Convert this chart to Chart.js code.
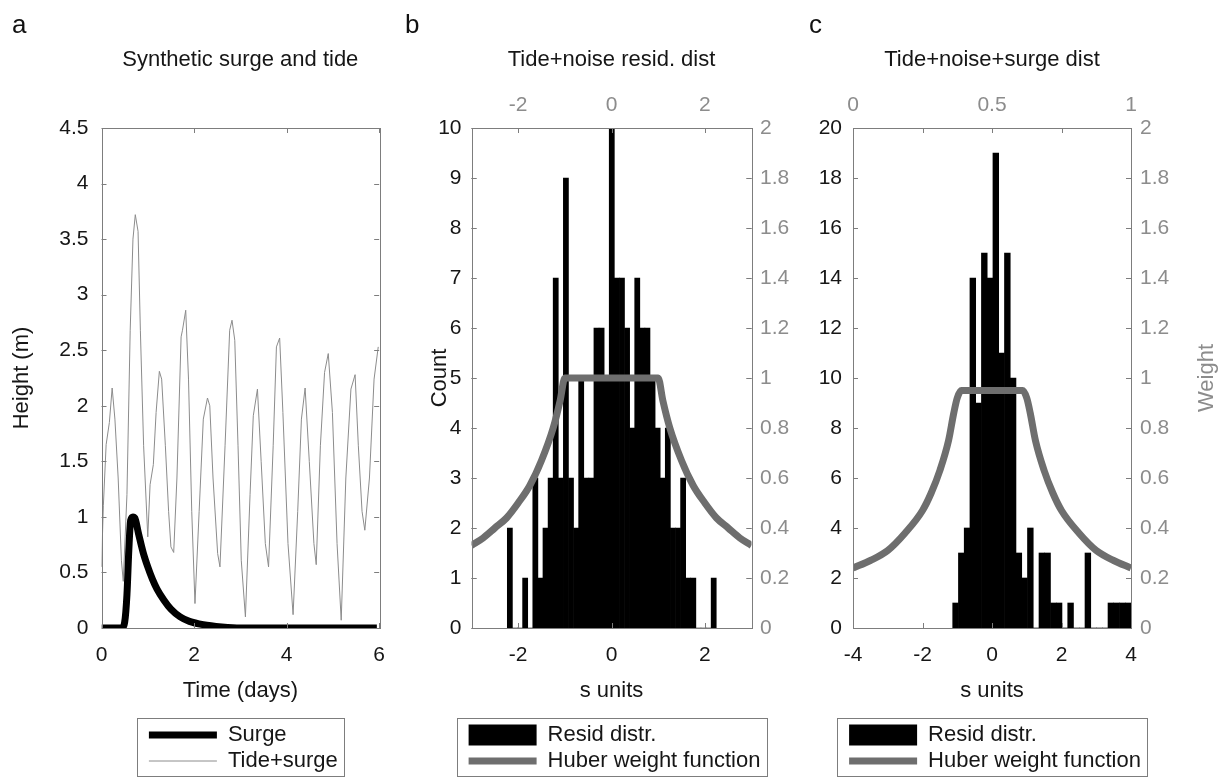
<!DOCTYPE html>
<html>
<head>
<meta charset="utf-8">
<title>Synthetic surge and tide, residual distributions</title>
<script src="https://cdn.jsdelivr.net/npm/chart.js@4.4.1/dist/chart.umd.min.js"></script>
<style>
  html, body { margin: 0; padding: 0; background: #fff; }
  #fig { position: relative; width: 1225px; height: 778px; overflow: hidden; }
  #fig canvas { position: absolute; top: 0; }
  .tag { position: absolute; top: 11px; font: 26px/26px "Liberation Sans", Arial, sans-serif; color: #111; }
</style>
</head>
<body>
<div id="fig">
  <canvas id="panel-a" width="400" height="778" style="left:0"></canvas>
  <canvas id="panel-b" width="395" height="778" style="left:400px"></canvas>
  <canvas id="panel-c" width="430" height="778" style="left:795px"></canvas>
  <div class="tag" style="left:12px">a</div>
  <div class="tag" style="left:405px">b</div>
  <div class="tag" style="left:809px">c</div>
</div>
<script>
'use strict';

// panel a - water level series, days / metres
var tideDays = [0, 0.04, 0.1, 0.17, 0.23, 0.29, 0.36, 0.43, 0.47, 0.55,
  0.62, 0.68, 0.73, 0.79, 0.84, 0.91, 1.0, 1.05, 1.12, 1.18,
  1.25, 1.30, 1.38, 1.45, 1.50, 1.56, 1.63, 1.72, 1.75, 1.82,
  1.88, 1.95, 2.02, 2.11, 2.20, 2.29, 2.34, 2.41, 2.51, 2.56,
  2.67, 2.77, 2.82, 2.88, 2.95, 3.02, 3.11, 3.21, 3.28, 3.37,
  3.45, 3.54, 3.61, 3.71, 3.78, 3.85, 3.92, 4.03, 4.14, 4.24,
  4.32, 4.40, 4.49, 4.59, 4.64, 4.73, 4.82, 4.90, 4.99, 5.09,
  5.18, 5.28, 5.39, 5.48, 5.55, 5.63, 5.69, 5.79, 5.89, 5.98];
var tideHeight = [0.55, 1.1, 1.65, 1.85, 2.16, 1.88, 1.35, 0.61, 0.42, 1.2,
  2.68, 3.5, 3.72, 3.57, 2.68, 1.64, 0.82, 1.29, 1.47, 1.94,
  2.31, 2.24, 1.64, 1.05, 0.73, 0.68, 1.35, 2.62, 2.68, 2.86,
  2.24, 1.05, 0.22, 1.05, 1.88, 2.07, 2.0, 1.35, 0.67, 0.55,
  1.64, 2.68, 2.77, 2.59, 1.64, 0.61, 0.1, 1.2, 1.91, 2.15,
  1.5, 0.76, 0.55, 1.64, 2.53, 2.61, 1.94, 0.76, 0.12, 1.05,
  1.88, 2.16, 1.5, 0.76, 0.57, 1.64, 2.3, 2.47, 1.94, 0.76,
  0.07, 1.35, 2.15, 2.28, 1.64, 1.05, 0.88, 1.35, 2.24, 2.53];
var surgeDays = [0, 0.44, 0.5, 0.55, 0.59, 0.63, 0.68, 0.72, 0.8, 0.9, 1.0, 1.1,
  1.2, 1.35, 1.5, 1.7, 1.9, 2.2, 2.6, 3.0, 4.0, 5.0, 5.95];
var surgeHeight = [0, 0, 0.05, 0.3, 0.7, 0.97, 1.0, 0.99, 0.85, 0.68, 0.55, 0.44,
  0.35, 0.25, 0.17, 0.1, 0.06, 0.03, 0.01, 0, 0, 0, 0];

// panel b - tide+noise residuals, bin centres (s units) and counts
var residBinsB = [-2.178, -2.069, -1.960, -1.850, -1.741, -1.632, -1.523, -1.414, -1.304, -1.195,
  -1.086, -0.977, -0.868, -0.758, -0.649, -0.540, -0.431, -0.322, -0.212, -0.103,
  0.006, 0.115, 0.224, 0.334, 0.443, 0.552, 0.661, 0.770, 0.880, 0.989,
  1.098, 1.207, 1.316, 1.426, 1.535, 1.644, 1.753, 1.862, 1.972, 2.081, 2.190];
var residCountB = [2, 0, 0, 1, 0, 3, 1, 2, 3, 7,
  3, 9, 3, 2, 5, 3, 3, 6, 6, 5,
  10, 7, 7, 6, 4, 7, 6, 6, 5, 4,
  3, 4, 2, 2, 3, 1, 1, 0, 0, 0, 1];
var huberSB = [-3, -2.75, -2.5, -2.25, -2, -1.75, -1.5, -1.25, -1.1, -1,
  1, 1.1, 1.25, 1.5, 1.75, 2, 2.25, 2.5, 2.75, 3];
var huberWB = [0.33, 0.36, 0.4, 0.44, 0.5, 0.57, 0.67, 0.8, 0.91, 1,
  1, 0.91, 0.8, 0.67, 0.57, 0.5, 0.44, 0.4, 0.36, 0.33];

// panel c - tide+noise+surge residuals
var residBinsC = [-1.048, -0.883, -0.717, -0.552, -0.386, -0.221, -0.055, 0.110, 0.276, 0.442,
  0.607, 0.773, 0.938, 1.104, 1.269, 1.435, 1.600, 1.766, 1.931, 2.097,
  2.262, 2.428, 2.593, 2.759, 2.924, 3.090, 3.255, 3.421, 3.586, 3.752, 3.917];
var residCountC = [1, 3, 4, 14, 9, 15, 14, 19, 11, 15,
  10, 3, 2, 4, 0, 3, 3, 1, 1, 0,
  1, 0, 0, 3, 0, 0, 0, 1, 1, 1, 1];
var huberSC = [-4, -3.5, -3, -2.5, -2, -1.75, -1.5, -1.25, -1.1, -1, -0.88,
  0.88, 1, 1.1, 1.25, 1.5, 1.75, 2, 2.5, 3, 3.5, 4];
var huberWC = [0.24, 0.27, 0.31, 0.38, 0.47, 0.54, 0.63, 0.75, 0.86, 0.92, 0.95,
  0.95, 0.92, 0.86, 0.75, 0.63, 0.54, 0.47, 0.38, 0.31, 0.27, 0.24];

// tick labels
var timeTicks = [0, 2, 4, 6];
var heightTicks = [0, 0.5, 1, 1.5, 2, 2.5, 3, 3.5, 4, 4.5];
var sTicksB = [-2, 0, 2];
var countTicksB = [0, 1, 2, 3, 4, 5, 6, 7, 8, 9, 10];
var weightTicks = [0, 0.2, 0.4, 0.6, 0.8, 1, 1.2, 1.4, 1.6, 1.8, 2];
var sTicksC = [-4, -2, 0, 2, 4];
var countTicksC = [0, 2, 4, 6, 8, 10, 12, 14, 16, 18, 20];
var fracTicksC = [0, 0.5, 1];

var INK = '#161616', GREY = '#8c8c8c', HUBER = '#6e6e6e', FRAME = '#7d7d7d';

Chart.defaults.font.family = '"Liberation Sans", Arial, sans-serif';
Chart.defaults.font.size = 21;
Chart.defaults.color = INK;
Chart.defaults.animation = false;

function pairs(xs, ys) {
  return xs.map(function(x, i) { return {x: x, y: ys[i]}; });
}
function fixTicks(values) {
  return function(scale) { scale.ticks = values.map(function(v) { return {value: v}; }); };
}
function fixSize(prop, size) {
  return function(scale) { scale[prop] = size; };
}
// labels as matlab prints them: 1 not 1.0
function plain(value) {
  return String(value);
}

// matlab style box: grey frame with short inward tick marks on all sides
var boxFrame = {
  id: 'boxFrame',
  afterDatasetsDraw: function(chart) {
    var ctx = chart.ctx, a = chart.chartArea;
    ctx.save();
    ctx.strokeStyle = FRAME;
    ctx.lineWidth = 1;
    ctx.beginPath();
    Object.keys(chart.scales).forEach(function(id) {
      var s = chart.scales[id];
      s.ticks.forEach(function(t) {
        var p = Math.round(s.getPixelForValue(t.value)) + 0.5;
        if (s.isHorizontal()) {
          ctx.moveTo(p, a.top); ctx.lineTo(p, a.top + 5);
          ctx.moveTo(p, a.bottom); ctx.lineTo(p, a.bottom - 5);
        } else {
          ctx.moveTo(a.left, p); ctx.lineTo(a.left + 5, p);
          ctx.moveTo(a.right, p); ctx.lineTo(a.right - 5, p);
        }
      });
    });
    ctx.stroke();
    ctx.strokeRect(Math.round(a.left) + 0.5, Math.round(a.top) + 0.5, Math.round(a.width), Math.round(a.height));
    ctx.restore();
  }
};

// legend sits in a framed box centred under the axes
var legendFrame = {
  id: 'legendFrame',
  afterLayout: function(chart, args, opts) {
    var lg = chart.legend, a = chart.chartArea;
    if (!lg || !lg.legendHitBoxes || !lg.legendHitBoxes.length) return;
    var pad = lg.options.labels.padding;
    var w = Math.max.apply(null, lg.legendHitBoxes.map(function(h) { return h.width; }));
    var bw = w + opts.padLeft + opts.padRight;
    var bx = (a.left + a.right) / 2 - bw / 2;
    lg.left = bx + opts.padLeft - pad;
    lg.right = lg.left + bw + 2 * pad;
    lg.width = lg.right - lg.left;
    lg.top += opts.shiftY;
    lg.bottom += opts.shiftY;
    lg.$frame = {x: bx, w: bw};
  },
  afterDraw: function(chart, args, opts) {
    var lg = chart.legend, ctx = chart.ctx;
    if (!lg || !lg.$frame) return;
    var hb = lg.legendHitBoxes;
    var top = Math.min.apply(null, hb.map(function(h) { return h.top; })) - opts.padTop;
    var bottom = Math.max.apply(null, hb.map(function(h) { return h.top + h.height; })) + opts.padBottom;
    ctx.save();
    ctx.strokeStyle = FRAME;
    ctx.lineWidth = 1;
    ctx.strokeRect(Math.round(lg.$frame.x) + 0.5, Math.round(top) + 0.5, Math.round(lg.$frame.w), Math.round(bottom - top));
    ctx.restore();
  }
};

// right hand axis title, reading bottom to top
var sideTitle = {
  id: 'sideTitle',
  afterDraw: function(chart, args, opts) {
    if (!opts.text) return;
    var ctx = chart.ctx, a = chart.chartArea;
    ctx.save();
    ctx.translate(chart.width - opts.inset, (a.top + a.bottom) / 2);
    ctx.rotate(-Math.PI / 2);
    ctx.font = '22px "Liberation Sans", Arial, sans-serif';
    ctx.fillStyle = opts.color;
    ctx.textAlign = 'center';
    ctx.textBaseline = 'middle';
    ctx.fillText(opts.text, 0, 0);
    ctx.restore();
  }
};

function legendOptions() {
  return {
    position: 'bottom',
    align: 'start',
    fullSize: false,
    labels: {
      color: INK,
      font: {size: 22},
      padding: 4,
      usePointStyle: true,
      pointStyleWidth: 68,
      boxHeight: 21,
      generateLabels: function(chart) {
        return chart.data.datasets.map(function(ds, i) {
          var bar = ds.type === 'bar';
          return {
            text: ds.label,
            datasetIndex: i,
            hidden: false,
            fontColor: INK,
            pointStyle: bar ? 'rect' : 'line',
            fillStyle: bar ? ds.backgroundColor : 'rgba(0,0,0,0)',
            strokeStyle: bar ? ds.backgroundColor : ds.borderColor,
            lineWidth: bar ? 0 : ds.borderWidth,
            lineCap: 'butt'
          };
        });
      }
    }
  };
}

var noGrid = {display: false, drawTicks: false};
var noBorder = {display: false};
var frameOpts = {padLeft: 12, padRight: 6, padTop: 6, padBottom: 4, shiftY: 4};

function titleOpts(text, below) {
  return {
    display: true, text: text, fullSize: false, color: INK,
    font: {size: 22, weight: 'normal'},
    padding: {top: 47, bottom: below}
  };
}

function bottomAxis(min, max, ticks, label) {
  return {
    type: 'linear', position: 'bottom', min: min, max: max, offset: false,
    grid: noGrid, border: noBorder,
    afterBuildTicks: fixTicks(ticks), afterFit: fixSize('height', 88),
    ticks: {padding: 15, maxRotation: 0, autoSkip: false, callback: plain},
    title: {display: true, text: label, color: INK, font: {size: 22}, padding: {top: 0, bottom: 11.8}}
  };
}

// a: synthetic surge and tide
new Chart(document.getElementById('panel-a'), {
  type: 'line',
  data: {
    datasets: [
      {label: 'Surge', data: pairs(surgeDays, surgeHeight), borderColor: '#000', backgroundColor: '#000',
        borderWidth: 7, pointRadius: 0, cubicInterpolationMode: 'monotone'},
      {label: 'Tide+surge', data: pairs(tideDays, tideHeight), borderColor: GREY, backgroundColor: GREY,
        borderWidth: 1, pointRadius: 0, tension: 0}
    ]
  },
  options: {
    responsive: false,
    animation: false,
    layout: {padding: {right: 19.5}},
    scales: {
      x: bottomAxis(0, 6, timeTicks, 'Time (days)'),
      y: {
        min: 0, max: 4.5, grid: noGrid, border: noBorder,
        afterBuildTicks: fixTicks(heightTicks), afterFit: fixSize('width', 101.5),
        ticks: {padding: 13, autoSkip: false, callback: plain},
        title: {display: true, text: 'Height (m)', color: INK, font: {size: 22}, padding: {top: 9, bottom: 0}}
      }
    },
    plugins: {
      title: titleOpts('Synthetic surge and tide', 54.6),
      legend: legendOptions(),
      legendFrame: frameOpts,
      tooltip: {enabled: false}
    }
  },
  plugins: [boxFrame, legendFrame, sideTitle]
});

// b: tide+noise residual distribution
new Chart(document.getElementById('panel-b'), {
  type: 'bar',
  data: {
    datasets: [
      {type: 'bar', label: 'Resid distr.', data: pairs(residBinsB, residCountB), backgroundColor: '#000',
        borderWidth: 0, barPercentage: 1, categoryPercentage: 1, order: 2, xAxisID: 'x', yAxisID: 'y'},
      {type: 'line', label: 'Huber weight function', data: pairs(huberSB, huberWB), borderColor: HUBER,
        backgroundColor: HUBER, borderWidth: 7, pointRadius: 0, cubicInterpolationMode: 'monotone',
        order: 1, xAxisID: 'x', yAxisID: 'y2'}
    ]
  },
  options: {
    responsive: false,
    animation: false,
    scales: {
      x: bottomAxis(-3, 3, sTicksB, 's units'),
      x2: {
        type: 'linear', position: 'top', display: true, min: -3, max: 3, offset: false,
        grid: noGrid, border: noBorder,
        afterBuildTicks: fixTicks(sTicksB), afterFit: fixSize('height', 54.6),
        ticks: {color: GREY, padding: 10, maxRotation: 0, autoSkip: false, callback: plain}
      },
      y: {
        min: 0, max: 10, grid: noGrid, border: noBorder,
        afterBuildTicks: fixTicks(countTicksB), afterFit: fixSize('width', 71.5),
        ticks: {padding: 10, autoSkip: false, callback: plain},
        title: {display: true, text: 'Count', color: INK, font: {size: 22}, padding: {top: 27, bottom: 0}}
      },
      y2: {
        position: 'right', min: 0, max: 2, grid: noGrid, border: noBorder,
        afterBuildTicks: fixTicks(weightTicks), afterFit: fixSize('width', 43.5),
        ticks: {color: GREY, padding: 8.5, autoSkip: false, callback: plain}
      }
    },
    plugins: {
      title: titleOpts('Tide+noise resid. dist', 0),
      legend: legendOptions(),
      legendFrame: frameOpts,
      tooltip: {enabled: false}
    }
  },
  plugins: [boxFrame, legendFrame, sideTitle]
});

// c: tide+noise+surge residual distribution
new Chart(document.getElementById('panel-c'), {
  type: 'bar',
  data: {
    datasets: [
      {type: 'bar', label: 'Resid distr.', data: pairs(residBinsC, residCountC), backgroundColor: '#000',
        borderWidth: 0, barPercentage: 1, categoryPercentage: 1, order: 2, xAxisID: 'x', yAxisID: 'y'},
      {type: 'line', label: 'Huber weight function', data: pairs(huberSC, huberWC), borderColor: HUBER,
        backgroundColor: HUBER, borderWidth: 7, pointRadius: 0, cubicInterpolationMode: 'monotone',
        order: 1, xAxisID: 'x', yAxisID: 'y2'}
    ]
  },
  options: {
    responsive: false,
    animation: false,
    scales: {
      x: bottomAxis(-4, 4, sTicksC, 's units'),
      x2: {
        type: 'linear', position: 'top', display: true, min: 0, max: 1, offset: false,
        grid: noGrid, border: noBorder,
        afterBuildTicks: fixTicks(fracTicksC), afterFit: fixSize('height', 54.6),
        ticks: {color: GREY, padding: 10, maxRotation: 0, autoSkip: false, callback: plain}
      },
      y: {
        min: 0, max: 20, grid: noGrid, border: noBorder,
        afterBuildTicks: fixTicks(countTicksC), afterFit: fixSize('width', 58),
        ticks: {padding: 11, autoSkip: false, callback: plain}
      },
      y2: {
        position: 'right', min: 0, max: 2, grid: noGrid, border: noBorder,
        afterBuildTicks: fixTicks(weightTicks), afterFit: fixSize('width', 94),
        ticks: {color: GREY, padding: 9, autoSkip: false, callback: plain}
      }
    },
    plugins: {
      title: titleOpts('Tide+noise+surge dist', 0),
      legend: legendOptions(),
      legendFrame: frameOpts,
      sideTitle: {text: 'Weight', color: GREY, inset: 18},
      tooltip: {enabled: false}
    }
  },
  plugins: [boxFrame, legendFrame, sideTitle]
});
</script>
</body>
</html>
